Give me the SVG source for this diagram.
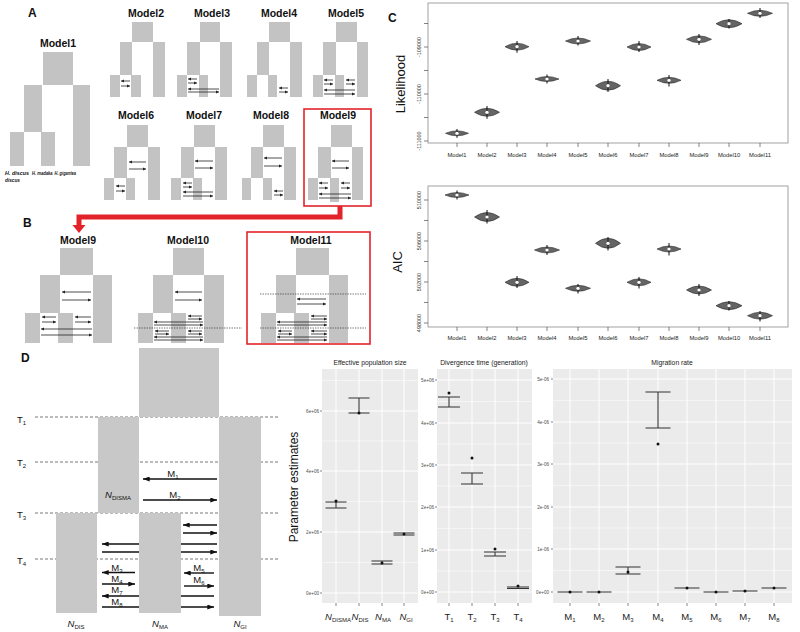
<svg xmlns="http://www.w3.org/2000/svg" width="800" height="632" viewBox="0 0 800 632">
<defs>
<marker id="ha" viewBox="0 0 6 6" refX="6" refY="3" markerWidth="3.6" markerHeight="3.2" markerUnits="userSpaceOnUse" orient="auto"><path d="M0,0L6,3L0,6z" fill="#222"/></marker>
<marker id="hd" viewBox="0 0 8 6" refX="8" refY="3" markerWidth="7" markerHeight="5" markerUnits="userSpaceOnUse" orient="auto"><path d="M0,0L8,3L0,6z" fill="#111"/></marker>
</defs>
<style>
text{font-family:"Liberation Sans",Arial,sans-serif;fill:#111}
.g{fill:#c3c3c3}
.gd{fill:#c8c8c8}
.a{stroke:#222;stroke-width:0.8;marker-end:url(#ha)}
.ad{stroke:#111;stroke-width:1.4;marker-end:url(#hd)}
.dt{stroke:#333;stroke-width:0.7;stroke-dasharray:1.4 1.1}
.dsh{stroke:#666;stroke-width:0.9;stroke-dasharray:3 2}
.t{font-size:10.5px;font-weight:bold;text-anchor:middle}
.pl{font-size:12px;font-weight:bold}
.rb{fill:none;stroke:#e3232a;stroke-width:1.6}
.sp{font-size:4.8px;font-weight:bold;font-style:italic}
.fr{fill:none;stroke:#8a8a8a;stroke-width:0.8}
.tk{stroke:#333;stroke-width:0.6}
.yl{font-size:5.5px;text-anchor:middle;fill:#333}
.xl{font-size:5.8px;text-anchor:middle;fill:#222}
.v{fill:#656565;stroke:#2a2a2a;stroke-width:0.6}
.w{stroke:#111;stroke-width:1}
.dot{fill:#fff}
.big{font-size:13px}
.dl{font-size:9.5px}
.sub{font-size:6px}
.gp{fill:#ebebeb}
.gmin{stroke:#fff;stroke-width:0.5}
.gmaj{stroke:#fff;stroke-width:1}
.gyl{font-size:4.6px;text-anchor:end;fill:#4d4d4d}
.gt{font-size:6.8px;text-anchor:middle;fill:#1a1a1a}
.eb{stroke:#333;stroke-width:1.1;fill:none}
.gx{font-size:9.5px;text-anchor:middle;fill:#222}
</style>
<rect width="800" height="632" fill="#fff"/>

<!-- Panel A -->
<text class="pl" x="28" y="17">A</text>
<g id="model1">
<text class="t" x="58" y="47">Model1</text>
<rect class="g" x="43" y="52" width="30" height="33"/>
<rect class="g" x="24" y="85" width="18" height="47"/>
<rect class="g" x="73" y="85" width="17" height="81"/>
<rect class="g" x="10" y="132" width="14" height="34"/>
<rect class="g" x="41" y="132" width="14" height="34"/>
<text class="sp" x="5" y="175" textLength="24" lengthAdjust="spacingAndGlyphs">H. discus</text>
<text class="sp" x="5" y="181.5" textLength="15" lengthAdjust="spacingAndGlyphs">discus</text>
<text class="sp" x="32" y="175" textLength="20.5" lengthAdjust="spacingAndGlyphs">H. madaka</text>
<text class="sp" x="54.5" y="175" textLength="21.5" lengthAdjust="spacingAndGlyphs">H. gigantea</text>
</g>
<g id="model2">
<text class="t" x="146" y="17">Model2</text>
<rect class="g" x="132" y="22" width="21" height="20"/>
<rect class="g" x="120" y="42" width="12" height="33"/>
<rect class="g" x="153" y="42" width="12" height="55"/>
<rect class="g" x="110" y="75" width="10" height="22"/>
<rect class="g" x="131" y="75" width="10" height="22"/>
</g>
<g id="model3">
<text class="t" x="212" y="17">Model3</text>
<rect class="g" x="200" y="22" width="20" height="20"/>
<rect class="g" x="187" y="42" width="13" height="33"/>
<rect class="g" x="220" y="42" width="12" height="55"/>
<rect class="g" x="177" y="75" width="10" height="22"/>
<rect class="g" x="199" y="75" width="9" height="22"/>
</g>
<g id="model4">
<text class="t" x="279" y="17">Model4</text>
<rect class="g" x="269" y="22" width="21" height="20"/>
<rect class="g" x="257" y="42" width="12" height="33"/>
<rect class="g" x="290" y="42" width="12" height="55"/>
<rect class="g" x="247" y="75" width="10" height="22"/>
<rect class="g" x="268" y="75" width="9" height="22"/>
</g>
<g id="model5">
<text class="t" x="346" y="17">Model5</text>
<rect class="g" x="336" y="22" width="21" height="20"/>
<rect class="g" x="323" y="42" width="13" height="33"/>
<rect class="g" x="357" y="42" width="11" height="55"/>
<rect class="g" x="313" y="75" width="10" height="22"/>
<rect class="g" x="335" y="75" width="9" height="22"/>
</g>
<g id="model6">
<text class="t" x="136" y="119">Model6</text>
<rect class="g" x="127" y="125" width="21" height="22"/>
<rect class="g" x="114" y="147" width="13" height="31"/>
<rect class="g" x="148" y="147" width="12" height="53"/>
<rect class="g" x="104" y="178" width="10" height="22"/>
<rect class="g" x="126" y="178" width="9" height="22"/>
</g>
<g id="model7">
<text class="t" x="204" y="119">Model7</text>
<rect class="g" x="194" y="125" width="21" height="22"/>
<rect class="g" x="181" y="147" width="13" height="31"/>
<rect class="g" x="215" y="147" width="12" height="53"/>
<rect class="g" x="171" y="178" width="10" height="22"/>
<rect class="g" x="193" y="178" width="9" height="22"/>
</g>
<g id="model8">
<text class="t" x="271" y="119">Model8</text>
<rect class="g" x="263" y="125" width="21" height="22"/>
<rect class="g" x="251" y="147" width="12" height="31"/>
<rect class="g" x="284" y="147" width="12" height="53"/>
<rect class="g" x="242" y="178" width="9" height="22"/>
<rect class="g" x="263" y="178" width="9" height="22"/>
</g>
<g id="model9">
<rect class="rb" x="304" y="109" width="67" height="97"/>
<text class="t" x="338" y="119">Model9</text>
<rect class="g" x="331" y="125" width="21" height="22"/>
<rect class="g" x="318" y="147" width="13" height="31"/>
<rect class="g" x="352" y="147" width="11" height="53"/>
<rect class="g" x="308" y="178" width="10" height="22"/>
<rect class="g" x="330" y="178" width="9" height="24"/>
</g>

<!-- Panel B -->
<text class="pl" x="23" y="227">B</text>
<g id="b-model9">
<text class="t" x="78" y="244">Model9</text>
<rect class="g" x="60" y="248" width="33" height="27"/>
<rect class="g" x="40" y="275" width="20" height="38"/>
<rect class="g" x="93" y="275" width="19" height="68"/>
<rect class="g" x="25" y="313" width="15" height="30"/>
<rect class="g" x="58" y="313" width="15" height="30"/>
</g>
<g id="b-model10">
<text class="t" x="188" y="244">Model10</text>
<rect class="g" x="173" y="248" width="31" height="27"/>
<rect class="g" x="153" y="275" width="20" height="38"/>
<rect class="g" x="204" y="275" width="20" height="68"/>
<rect class="g" x="138" y="313" width="15" height="30"/>
<rect class="g" x="171" y="313" width="15" height="30"/>
</g>
<g id="b-model11">
<rect class="rb" x="247" y="232" width="123" height="112"/>
<text class="t" x="311" y="244">Model11</text>
<rect class="g" x="296" y="248" width="33" height="27"/>
<rect class="g" x="276" y="275" width="20" height="38"/>
<rect class="g" x="329" y="275" width="19" height="68"/>
<rect class="g" x="261" y="313" width="15" height="30"/>
<rect class="g" x="294" y="313" width="15" height="30"/>
</g>

<g id="connectors">
<path d="M340 206V217H79V226" fill="none" stroke="#e3232a" stroke-width="5"/>
<path d="M72.5 225L85.5 225L79 233Z" fill="#e3232a"/>
<line class="a" x1="130" y1="81" x2="121" y2="81"/><line class="a" x1="121" y1="86" x2="130" y2="86"/>
<line class="a" x1="197" y1="79" x2="188" y2="79"/><line class="a" x1="188" y1="83" x2="197" y2="83"/>
<line class="a" x1="219" y1="89" x2="188" y2="89"/><line class="a" x1="188" y1="92" x2="219" y2="92"/>
<line class="a" x1="288" y1="88" x2="279" y2="88"/><line class="a" x1="279" y1="92" x2="288" y2="92"/>
<line class="a" x1="333" y1="80" x2="324" y2="80"/><line class="a" x1="324" y1="84" x2="333" y2="84"/>
<line class="a" x1="355" y1="80" x2="346" y2="80"/><line class="a" x1="346" y1="84" x2="355" y2="84"/>
<line class="a" x1="355" y1="90" x2="324" y2="90"/><line class="a" x1="324" y1="94" x2="355" y2="94"/>
<line class="a" x1="146" y1="162" x2="129" y2="162"/><line class="a" x1="129" y1="169" x2="146" y2="169"/>
<line class="a" x1="125" y1="186" x2="116" y2="186"/><line class="a" x1="116" y1="191" x2="125" y2="191"/>
<line class="a" x1="213" y1="161" x2="195" y2="161"/><line class="a" x1="195" y1="168" x2="213" y2="168"/>
<line class="a" x1="192" y1="183" x2="183" y2="183"/><line class="a" x1="183" y1="187" x2="192" y2="187"/>
<line class="a" x1="213" y1="192" x2="183" y2="192"/><line class="a" x1="183" y1="196" x2="213" y2="196"/>
<line class="a" x1="282" y1="158" x2="264" y2="158"/><line class="a" x1="264" y1="166" x2="282" y2="166"/>
<line class="a" x1="283" y1="191" x2="274" y2="191"/><line class="a" x1="274" y1="195" x2="283" y2="195"/>
<line class="a" x1="349" y1="161" x2="332" y2="161"/><line class="a" x1="332" y1="168" x2="349" y2="168"/>
<line class="a" x1="328" y1="183" x2="319" y2="183"/><line class="a" x1="319" y1="188" x2="328" y2="188"/>
<line class="a" x1="350" y1="183" x2="341" y2="183"/><line class="a" x1="341" y1="188" x2="350" y2="188"/>
<line class="a" x1="351" y1="194" x2="319" y2="194"/><line class="a" x1="319" y1="198" x2="351" y2="198"/>
<line class="a" x1="91" y1="292" x2="62" y2="292"/><line class="a" x1="62" y1="300" x2="91" y2="300"/>
<line class="a" x1="56" y1="317" x2="42" y2="317"/><line class="a" x1="42" y1="322" x2="56" y2="322"/>
<line class="a" x1="91" y1="317" x2="75" y2="317"/><line class="a" x1="75" y1="322" x2="91" y2="322"/>
<line class="a" x1="92" y1="329" x2="41" y2="329"/><line class="a" x1="41" y1="335" x2="92" y2="335"/>
<line class="a" x1="202" y1="292" x2="175" y2="292"/><line class="a" x1="175" y1="300" x2="202" y2="300"/>
<line class="a" x1="202" y1="316" x2="188" y2="316"/><line class="a" x1="188" y1="319" x2="202" y2="319"/>
<line class="a" x1="203" y1="322" x2="154" y2="322"/><line class="a" x1="154" y1="325" x2="203" y2="325"/>
<line class="dt" x1="134" y1="328" x2="242" y2="328"/>
<line class="a" x1="169" y1="331" x2="155" y2="331"/><line class="a" x1="155" y1="334" x2="169" y2="334"/>
<line class="a" x1="202" y1="331" x2="188" y2="331"/><line class="a" x1="188" y1="334" x2="202" y2="334"/>
<line class="a" x1="203" y1="337" x2="154" y2="337"/><line class="a" x1="154" y1="340" x2="203" y2="340"/>
<line class="dt" x1="260" y1="294" x2="366" y2="294"/>
<line class="a" x1="326" y1="299" x2="297" y2="299"/><line class="a" x1="297" y1="304" x2="326" y2="304"/>
<line class="a" x1="327" y1="316" x2="311" y2="316"/><line class="a" x1="311" y1="319" x2="327" y2="319"/>
<line class="a" x1="327" y1="322" x2="277" y2="322"/><line class="a" x1="277" y1="325" x2="327" y2="325"/>
<line class="dt" x1="260" y1="328" x2="366" y2="328"/>
<line class="a" x1="292" y1="331" x2="278" y2="331"/><line class="a" x1="278" y1="334" x2="292" y2="334"/>
<line class="a" x1="327" y1="331" x2="311" y2="331"/><line class="a" x1="311" y1="334" x2="327" y2="334"/>
<line class="a" x1="327" y1="337" x2="277" y2="337"/><line class="a" x1="277" y1="340" x2="327" y2="340"/>
<line class="ad" x1="217" y1="479" x2="143" y2="479"/>
<line class="ad" x1="143" y1="500" x2="217" y2="500"/>
<line class="ad" x1="217" y1="525" x2="183" y2="525"/>
<line class="ad" x1="183" y1="533" x2="217" y2="533"/>
<line class="ad" x1="217" y1="544" x2="102" y2="544"/>
<line class="ad" x1="102" y1="552" x2="217" y2="552"/>
<line class="ad" x1="135" y1="572.5" x2="102" y2="572.5"/>
<line class="ad" x1="102" y1="584" x2="135" y2="584"/>
<line class="ad" x1="214" y1="596" x2="102" y2="596"/>
<line class="ad" x1="102" y1="607" x2="214" y2="607"/>
<line class="ad" x1="214" y1="573" x2="184" y2="573"/>
<line class="ad" x1="184" y1="586" x2="214" y2="586"/>
</g>

<!-- Panel C -->
<text class="pl" x="388" y="22">C</text>
<g id="plot-likelihood">
<rect class="fr" x="428" y="3" width="360" height="140"/>
<path class="tk" d="M424 23.5H428M424 47H428M424 70.5H428M424 94H428M424 117.5H428M424 141H428M457 143V147M487 143V147M517 143V147M547 143V147M578 143V147M608 143V147M639 143V147M669 143V147M699 143V147M729 143V147M760 143V147"/>
<text class="yl" transform="translate(421,47) rotate(-90)">-109000</text>
<text class="yl" transform="translate(421,94) rotate(-90)">-110000</text>
<text class="yl" transform="translate(421,141) rotate(-90)">-111000</text>
<text class="big" text-anchor="middle" transform="translate(405,84) rotate(-90)">Likelihood</text>
<g>
<path class="v" d="M445.5 133.3Q457 128.3 468.5 133.3Q457 138.3 445.5 133.3Z"/><line class="w" x1="457" y1="129" x2="457" y2="137.8"/><circle class="dot" cx="457" cy="133.3" r="1.6"/>
<path class="v" d="M474.5 112.3Q487 104.3 499.5 112.3Q487 120.3 474.5 112.3Z"/><line class="w" x1="487" y1="106" x2="487" y2="118.8"/><circle class="dot" cx="487" cy="112.3" r="1.6"/>
<path class="v" d="M505 46.7Q517 39.7 529 46.7Q517 53.7 505 46.7Z"/><line class="w" x1="517" y1="41" x2="517" y2="52.7"/><circle class="dot" cx="517" cy="46.7" r="1.6"/>
<path class="v" d="M535 79Q547 74 559 79Q547 84 535 79Z"/><line class="w" x1="547" y1="74.5" x2="547" y2="83.5"/><circle class="dot" cx="547" cy="79" r="1.6"/>
<path class="v" d="M565.5 41Q578 35 590.5 41Q578 47 565.5 41Z"/><line class="w" x1="578" y1="36" x2="578" y2="45.5"/><circle class="dot" cx="578" cy="41" r="1.6"/>
<path class="v" d="M595.5 85.7Q608 76.7 620.5 85.7Q608 94.7 595.5 85.7Z"/><line class="w" x1="608" y1="79" x2="608" y2="92"/><circle class="dot" cx="608" cy="85.7" r="1.6"/>
<path class="v" d="M627 47Q639 40 651 47Q639 54 627 47Z"/><line class="w" x1="639" y1="41" x2="639" y2="52"/><circle class="dot" cx="639" cy="47" r="1.6"/>
<path class="v" d="M657 80.3Q669 74.3 681 80.3Q669 86.3 657 80.3Z"/><line class="w" x1="669" y1="75" x2="669" y2="86.5"/><circle class="dot" cx="669" cy="80.3" r="1.6"/>
<path class="v" d="M686.5 39.3Q699 32.3 711.5 39.3Q699 46.3 686.5 39.3Z"/><line class="w" x1="699" y1="34" x2="699" y2="45"/><circle class="dot" cx="699" cy="39.3" r="1.6"/>
<path class="v" d="M716 23.7Q729 15.7 742 23.7Q729 31.7 716 23.7Z"/><line class="w" x1="729" y1="19" x2="729" y2="28.5"/><circle class="dot" cx="729" cy="23.7" r="1.6"/>
<path class="v" d="M747.5 13.3Q760 7.3 772.5 13.3Q760 19.3 747.5 13.3Z"/><line class="w" x1="760" y1="8" x2="760" y2="18"/><circle class="dot" cx="760" cy="13.3" r="1.6"/>
</g>
<text class="xl" x="457" y="157">Model1</text><text class="xl" x="487" y="157">Model2</text><text class="xl" x="517" y="157">Model3</text><text class="xl" x="547" y="157">Model4</text><text class="xl" x="578" y="157">Model5</text><text class="xl" x="608" y="157">Model6</text><text class="xl" x="639" y="157">Model7</text><text class="xl" x="669" y="157">Model8</text><text class="xl" x="699" y="157">Model9</text><text class="xl" x="729" y="157">Model10</text><text class="xl" x="760" y="157">Model11</text>
</g>
<g id="plot-aic">
<rect class="fr" x="428" y="186" width="360" height="141"/>
<path class="tk" d="M424 200H428M424 220.5H428M424 241H428M424 261.5H428M424 282H428M424 302.5H428M424 323H428M457 327V331M487 327V331M517 327V331M547 327V331M578 327V331M608 327V331M639 327V331M669 327V331M699 327V331M729 327V331M760 327V331"/>
<text class="yl" transform="translate(421,200) rotate(-90)">510000</text>
<text class="yl" transform="translate(421,241) rotate(-90)">506000</text>
<text class="yl" transform="translate(421,282) rotate(-90)">502000</text>
<text class="yl" transform="translate(421,323) rotate(-90)">498000</text>
<text class="big" text-anchor="middle" transform="translate(402,262) rotate(-90)">AIC</text>
<g>
<path class="v" d="M445 195Q457 190 469 195Q457 200 445 195Z"/><line class="w" x1="457" y1="190.5" x2="457" y2="199.5"/><circle class="dot" cx="457" cy="195" r="1.6"/>
<path class="v" d="M474.5 217Q487 208 499.5 217Q487 226 474.5 217Z"/><line class="w" x1="487" y1="210" x2="487" y2="223.5"/><circle class="dot" cx="487" cy="217" r="1.6"/>
<path class="v" d="M505 282.3Q517 274.3 529 282.3Q517 290.3 505 282.3Z"/><line class="w" x1="517" y1="276" x2="517" y2="288"/><circle class="dot" cx="517" cy="282.3" r="1.6"/>
<path class="v" d="M534.5 250Q547 244 559.5 250Q547 256 534.5 250Z"/><line class="w" x1="547" y1="245" x2="547" y2="255"/><circle class="dot" cx="547" cy="250" r="1.6"/>
<path class="v" d="M565.5 288.3Q578 282.3 590.5 288.3Q578 294.3 565.5 288.3Z"/><line class="w" x1="578" y1="284" x2="578" y2="293.5"/><circle class="dot" cx="578" cy="288.3" r="1.6"/>
<path class="v" d="M595.5 243.3Q608 233.3 620.5 243.3Q608 253.3 595.5 243.3Z"/><line class="w" x1="608" y1="237" x2="608" y2="250.5"/><circle class="dot" cx="608" cy="243.3" r="1.6"/>
<path class="v" d="M627 282.3Q639 275.3 651 282.3Q639 289.3 627 282.3Z"/><line class="w" x1="639" y1="277" x2="639" y2="288.5"/><circle class="dot" cx="639" cy="282.3" r="1.6"/>
<path class="v" d="M657 249Q669 243 681 249Q669 255 657 249Z"/><line class="w" x1="669" y1="243" x2="669" y2="255.5"/><circle class="dot" cx="669" cy="249" r="1.6"/>
<path class="v" d="M686.5 290Q699 282 711.5 290Q699 298 686.5 290Z"/><line class="w" x1="699" y1="284" x2="699" y2="296"/><circle class="dot" cx="699" cy="290" r="1.6"/>
<path class="v" d="M716 305.7Q729 297.7 742 305.7Q729 313.7 716 305.7Z"/><line class="w" x1="729" y1="301" x2="729" y2="310.5"/><circle class="dot" cx="729" cy="305.7" r="1.6"/>
<path class="v" d="M747.5 315.7Q760 308.7 772.5 315.7Q760 322.7 747.5 315.7Z"/><line class="w" x1="760" y1="311" x2="760" y2="321.5"/><circle class="dot" cx="760" cy="315.7" r="1.6"/>
</g>
<text class="xl" x="457" y="340">Model1</text><text class="xl" x="487" y="340">Model2</text><text class="xl" x="517" y="340">Model3</text><text class="xl" x="547" y="340">Model4</text><text class="xl" x="578" y="340">Model5</text><text class="xl" x="608" y="340">Model6</text><text class="xl" x="639" y="340">Model7</text><text class="xl" x="669" y="340">Model8</text><text class="xl" x="699" y="340">Model9</text><text class="xl" x="729" y="340">Model10</text><text class="xl" x="760" y="340">Model11</text>
</g>

<!-- Panel D -->
<text class="pl" x="21" y="362">D</text>
<g id="d-lines">
<line class="dsh" x1="35" y1="417" x2="280" y2="417"/>
<line class="dsh" x1="35" y1="462" x2="280" y2="462"/>
<line class="dsh" x1="35" y1="513" x2="280" y2="513"/>
<line class="dsh" x1="35" y1="559" x2="280" y2="559"/>
<text class="dl" x="17" y="423">T<tspan class="sub" dy="2">1</tspan></text>
<text class="dl" x="17" y="466">T<tspan class="sub" dy="2">2</tspan></text>
<text class="dl" x="17" y="518">T<tspan class="sub" dy="2">3</tspan></text>
<text class="dl" x="17" y="564">T<tspan class="sub" dy="2">4</tspan></text>
</g>
<g id="d-anc"><rect class="gd" x="139" y="348" width="80" height="69"/></g>
<g id="d-disma"><rect class="gd" x="98" y="417" width="41" height="96"/>
<text class="dl" x="105" y="498"><tspan font-style="italic">N</tspan><tspan class="sub" dy="2">DISMA</tspan></text></g>
<g id="d-gi"><rect class="gd" x="219" y="417" width="42" height="199"/></g>
<g id="d-dis"><rect class="gd" x="56" y="513" width="41" height="100"/></g>
<g id="d-ma"><rect class="gd" x="139" y="513" width="42" height="100"/></g>
<g id="d-labels">
<text class="dl" x="173" y="476.5" text-anchor="middle">M<tspan class="sub" dy="2">1</tspan></text>
<text class="dl" x="175" y="498" text-anchor="middle">M<tspan class="sub" dy="2">2</tspan></text>
<text class="dl" x="117" y="570.5" text-anchor="middle">M<tspan class="sub" dy="2">3</tspan></text>
<text class="dl" x="117" y="581.5" text-anchor="middle">M<tspan class="sub" dy="2">4</tspan></text>
<text class="dl" x="117" y="593" text-anchor="middle">M<tspan class="sub" dy="2">7</tspan></text>
<text class="dl" x="117" y="605" text-anchor="middle">M<tspan class="sub" dy="2">8</tspan></text>
<text class="dl" x="199" y="571" text-anchor="middle">M<tspan class="sub" dy="2">5</tspan></text>
<text class="dl" x="199" y="582.5" text-anchor="middle">M<tspan class="sub" dy="2">6</tspan></text>
<text class="dl" x="76" y="627" text-anchor="middle"><tspan font-style="italic">N</tspan><tspan class="sub" dy="2">DIS</tspan></text>
<text class="dl" x="160" y="627" text-anchor="middle"><tspan font-style="italic">N</tspan><tspan class="sub" dy="2">MA</tspan></text>
<text class="dl" x="240" y="627" text-anchor="middle"><tspan font-style="italic">N</tspan><tspan class="sub" dy="2">GI</tspan></text>
</g>

<text font-size="12" text-anchor="middle" transform="translate(298,487) rotate(-90)">Parameter estimates</text>

<g id="plot-ne">
<text class="gt" x="370" y="365">Effective population size</text>
<rect class="gp" x="322" y="369" width="96" height="234"/>
<path class="gmin" d="M322 380.5H418M322 441H418M322 501.5H418M322 562.5H418"/>
<path class="gmaj" d="M322 411H418M322 471H418M322 532H418M322 593H418M336 369V603M359 369V603M382 369V603M404 369V603"/>
<path class="tk" d="M320 411H322M320 471H322M320 532H322M320 593H322M336 603V606M359 603V606M382 603V606M404 603V606"/>
<text class="gyl" x="319" y="412.5">6e+06</text><text class="gyl" x="319" y="472.5">4e+06</text><text class="gyl" x="319" y="533.5">2e+06</text><text class="gyl" x="319" y="594.5">0e+00</text>
<path class="eb" d="M325.5 502H346.5M325.5 508H346.5M336 502V508M348.5 398H369.5M348.5 413H369.5M359 398V413M371.5 561H392.5M371.5 564H392.5M382 561V564M393.5 533H414.5M393.5 535H414.5M404 533V535"/>
<g fill="#111"><circle cx="336" cy="501" r="1.5"/><circle cx="359" cy="413" r="1.5"/><circle cx="382" cy="563" r="1.5"/><circle cx="404" cy="534" r="1.5"/></g>
<text class="gx" x="338" y="620"><tspan font-style="italic">N</tspan><tspan class="sub" dy="2">DISMA</tspan></text>
<text class="gx" x="360" y="620"><tspan font-style="italic">N</tspan><tspan class="sub" dy="2">DIS</tspan></text>
<text class="gx" x="383" y="620"><tspan font-style="italic">N</tspan><tspan class="sub" dy="2">MA</tspan></text>
<text class="gx" x="406" y="620"><tspan font-style="italic">N</tspan><tspan class="sub" dy="2">GI</tspan></text>
</g>

<g id="plot-div">
<text class="gt" x="484" y="365">Divergence time (generation)</text>
<rect class="gp" x="437" y="369" width="95" height="234"/>
<path class="gmin" d="M437 401.5H532M437 444H532M437 486H532M437 528.5H532M437 571H532"/>
<path class="gmaj" d="M437 380H532M437 423H532M437 465H532M437 507H532M437 550H532M437 592H532M449 369V603M472 369V603M495 369V603M518 369V603"/>
<path class="tk" d="M435 380H437M435 423H437M435 465H437M435 507H437M435 550H437M435 592H437M449 603V606M472 603V606M495 603V606M518 603V606"/>
<text class="gyl" x="434" y="381.5">5e+06</text><text class="gyl" x="434" y="424.5">4e+06</text><text class="gyl" x="434" y="466.5">3e+06</text><text class="gyl" x="434" y="508.5">2e+06</text><text class="gyl" x="434" y="551.5">1e+06</text><text class="gyl" x="434" y="593.5">0e+00</text>
<path class="eb" d="M438 397H460M438 407H460M449 397V407M461 473H483M461 484H483M472 473V484M484 552H506M484 556H506M495 552V556M507 587H529M507 588.5H529"/>
<g fill="#111"><circle cx="449" cy="393" r="1.5"/><circle cx="472" cy="458" r="1.5"/><circle cx="495" cy="549" r="1.5"/><circle cx="518" cy="586" r="1.5"/></g>
<text class="gx" x="449" y="620">T<tspan class="sub" dy="2">1</tspan></text>
<text class="gx" x="472" y="620">T<tspan class="sub" dy="2">2</tspan></text>
<text class="gx" x="495" y="620">T<tspan class="sub" dy="2">3</tspan></text>
<text class="gx" x="518" y="620">T<tspan class="sub" dy="2">4</tspan></text>
</g>

<g id="plot-mig">
<text class="gt" x="672" y="365">Migration rate</text>
<rect class="gp" x="553" y="369" width="239" height="234"/>
<path class="gmin" d="M553 400.5H792M553 443H792M553 485.5H792M553 528H792M553 570.5H792"/>
<path class="gmaj" d="M553 379H792M553 422H792M553 464H792M553 507H792M553 549H792M553 592H792M570 369V603M599 369V603M628 369V603M658 369V603M687 369V603M716 369V603M745 369V603M774 369V603"/>
<path class="tk" d="M551 379H553M551 422H553M551 464H553M551 507H553M551 549H553M551 592H553M570 603V606M599 603V606M628 603V606M658 603V606M687 603V606M716 603V606M745 603V606M774 603V606"/>
<text class="gyl" x="549" y="380.5">5e-06</text><text class="gyl" x="549" y="423.5">4e-06</text><text class="gyl" x="549" y="465.5">3e-06</text><text class="gyl" x="549" y="508.5">2e-06</text><text class="gyl" x="549" y="550.5">1e-06</text><text class="gyl" x="549" y="593.5">0e+00</text>
<path class="eb" d="M557.5 592H582.5M586.5 592H611.5M615.5 567H640.5M615.5 574H640.5M628 567V574M645.5 392H670.5M645.5 428H670.5M658 392V428M674.5 588H699.5M703.5 592H728.5M732.5 591H757.5M761.5 588H786.5"/>
<g fill="#111"><circle cx="570" cy="592" r="1.5"/><circle cx="599" cy="592" r="1.5"/><circle cx="628" cy="572" r="1.5"/><circle cx="658" cy="444" r="1.5"/><circle cx="687" cy="588" r="1.5"/><circle cx="716" cy="592" r="1.5"/><circle cx="745" cy="591" r="1.5"/><circle cx="774" cy="588" r="1.5"/></g>
<text class="gx" x="570" y="620">M<tspan class="sub" dy="2">1</tspan></text>
<text class="gx" x="599" y="620">M<tspan class="sub" dy="2">2</tspan></text>
<text class="gx" x="628" y="620">M<tspan class="sub" dy="2">3</tspan></text>
<text class="gx" x="658" y="620">M<tspan class="sub" dy="2">4</tspan></text>
<text class="gx" x="687" y="620">M<tspan class="sub" dy="2">5</tspan></text>
<text class="gx" x="716" y="620">M<tspan class="sub" dy="2">6</tspan></text>
<text class="gx" x="745" y="620">M<tspan class="sub" dy="2">7</tspan></text>
<text class="gx" x="774" y="620">M<tspan class="sub" dy="2">8</tspan></text>
</g>
</svg>
